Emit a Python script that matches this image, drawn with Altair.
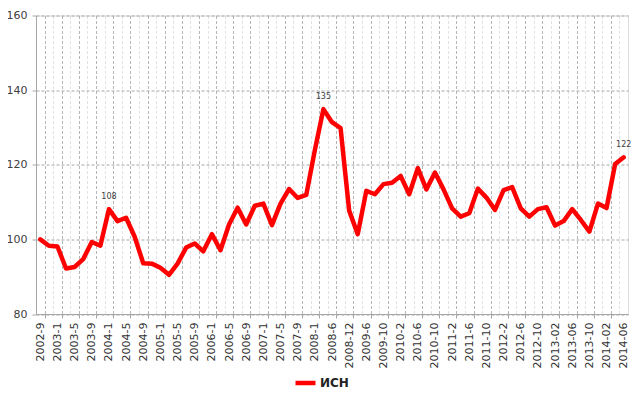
import altair as alt
import pandas as pd

values = [100.0, 98.3, 98.1, 92.2, 92.6, 94.7, 99.3, 98.3, 108.1, 104.9,
          105.8, 100.7, 93.6, 93.5, 92.4, 90.5, 93.5, 97.8, 98.9, 96.8,
          101.4, 97.1, 104.0, 108.5, 104.0, 109.0, 109.6, 103.8, 109.6, 113.5,
          111.1, 111.9, 123.9, 134.9, 131.4, 129.8, 107.7, 101.4, 113.0, 112.1,
          114.8, 115.2, 117.0, 112.1, 119.1, 113.4, 117.9, 113.4, 108.3, 106.1,
          107.0, 113.6, 111.2, 107.9, 113.2, 114.0, 108.3, 106.1, 108.1, 108.6,
          103.7, 104.9, 108.1, 105.2, 102.1, 109.6, 108.4, 120.2, 122.0]

tick_labels = ["2002-9", "2003-1", "2003-5", "2003-9", "2004-1", "2004-5", "2004-9",
               "2005-1", "2005-5", "2005-9", "2006-1", "2006-5", "2006-9", "2007-1",
               "2007-5", "2007-9", "2008-1", "2008-6", "2008-12", "2009-6", "2009-10",
               "2010-2", "2010-6", "2010-10", "2011-2", "2011-6", "2011-10", "2012-2",
               "2012-6", "2012-10", "2013-02", "2013-06", "2013-10", "2014-02", "2014-06"]

point_labels = {8: "108", 33: "135", 68: "122"}
series_name = "ИСН"

n = len(values)
df = pd.DataFrame({
    "idx": list(range(n)),
    "value": values,
    "series": [series_name] * n,
    "label": [point_labels.get(i, "") for i in range(n)],
})

label_idx = [2 * k for k in range(len(tick_labels))]
odd_bounds = [k + 0.5 for k in range(0, n - 1, 2)]
even_bounds = [k + 0.5 for k in range(1, n - 1, 2)]
arr = "[" + ",".join("'" + s + "'" for s in tick_labels) + "]"

FONT = "DejaVu Sans"
xscale = alt.Scale(domain=[-0.5, n - 0.5], nice=False, zero=False)
yscale = alt.Scale(domain=[80, 160], nice=False, zero=False)

base = alt.Chart(df)

line = base.mark_line(strokeWidth=4.5, strokeJoin="round", strokeCap="round").encode(
    x=alt.X("idx:Q", scale=xscale, title=None,
            axis=alt.Axis(orient="bottom", values=label_idx,
                          labelExpr=arr + "[round(datum.value/2)]",
                          labelAngle=-90, labelAlign="right", labelBaseline="middle",
                          labelPadding=8, ticks=False, grid=False, domain=True,
                          domainColor="#a6a6a6", labelFont=FONT, labelFontSize=11,
                          labelColor="#333333", labelOverlap=False)),
    y=alt.Y("value:Q", scale=yscale, title=None,
            axis=alt.Axis(values=[80, 100, 120, 140, 160], grid=True, gridColor="#a6a6a6",
                          gridDash=[3, 2], tickSize=4, tickColor="#a6a6a6",
                          domainColor="#a6a6a6", labelPadding=5, labelFont=FONT,
                          labelFontSize=11, labelColor="#404040")),
    color=alt.Color("series:N",
                    scale=alt.Scale(domain=[series_name], range=["#ff0000"]),
                    legend=alt.Legend(orient="none", legendX=257, legendY=355, title=None,
                                      symbolType="stroke", symbolSize=400,
                                      symbolStrokeWidth=4.5, labelFont=FONT,
                                      labelFontSize=12, labelFontWeight="bold",
                                      labelColor="#222222", labelOffset=2, padding=0)),
)

grid_major = base.mark_line(opacity=0).encode(
    x=alt.X("idx:Q", scale=xscale, title=None,
            axis=alt.Axis(orient="bottom", values=odd_bounds, labels=False, grid=True,
                          gridColor="#b5b5b5", gridDash=[3, 2], tickSize=4,
                          tickColor="#a6a6a6", domain=False)),
    y=alt.Y("value:Q", scale=yscale),
)

grid_minor = base.mark_line(opacity=0).encode(
    x=alt.X("idx:Q", scale=xscale, title=None,
            axis=alt.Axis(orient="bottom", values=even_bounds, labels=False, grid=True,
                          gridColor="#e2e2e2", gridDash=[3, 2], ticks=False, domain=False)),
    y=alt.Y("value:Q", scale=yscale),
)

text = base.transform_filter(alt.datum.label != "").mark_text(
    dy=-12, font=FONT, fontSize=8, color="#404040").encode(
    x=alt.X("idx:Q", scale=xscale, axis=None),
    y=alt.Y("value:Q", scale=yscale),
    text="label:N",
)

chart = alt.layer(line, grid_major, grid_minor, text).resolve_scale(
    x="shared", y="shared").resolve_axis(x="independent").properties(
    width=592, height=298.5,
    autosize=alt.AutoSizeParams(type="none"),
    padding={"left": 28, "top": 7.5, "right": 4, "bottom": 76},
).configure_view(stroke=None).configure(background="white")

chart.save("out.html", embed_options={"renderer": "svg", "actions": False})
